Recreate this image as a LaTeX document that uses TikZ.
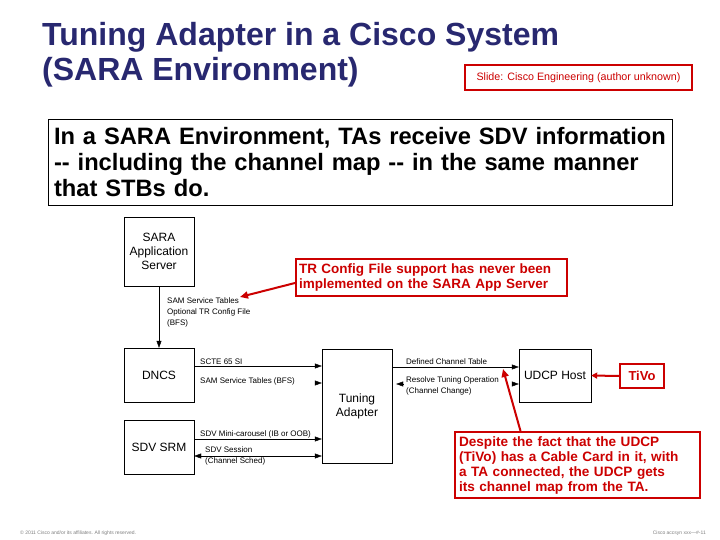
\documentclass[tikz,border=0pt]{standalone}
\usepackage{fontspec}
\setmainfont{Liberation Sans}
\usepackage{tikz}
\usetikzlibrary{arrows.meta,positioning}
\definecolor{titleblue}{RGB}{40,40,112}
\definecolor{callred}{RGB}{204,0,0}

\tikzset{
	unit/.style={draw, fill=white, minimum width=70pt, align=center, font=\fontsize{12}{14}\selectfont, inner sep=2pt},
	flow/.style={-{Triangle[length=7pt,width=5pt]}, thin},
	stub/.style={-{Triangle[length=7pt,width=5pt]}, thin, shorten <=1pt},
	tiny/.style={font=\fontsize{8}{11}\selectfont, inner sep=0pt, align=left},
	callout/.style={draw=callred, line width=2pt, text=callred, align=left, inner sep=4pt},
	redarrow/.style={callred, line width=2pt, -{Triangle[length=8pt,width=7pt]}}
}

\begin{document}
\begin{tikzpicture}[x=1pt,y=-1pt]
	\useasboundingbox[fill=white] (0,0) rectangle (720,540);

	%title and notes
	\node[anchor=base west, inner sep=0pt, align=left, text=titleblue, font=\bfseries\fontsize{32}{35}\selectfont] (title) at (42,81) {Tuning Adapter in a Cisco System\\(SARA Environment)};
	\node[draw=callred, line width=2.5pt, text=callred, font=\fontsize{10.7}{12}\selectfont, minimum width=227pt, minimum height=25pt, inner sep=0pt] (credit) at (578.5,77.5) {Slide: Cisco Engineering (author unknown)};
	\node[draw, thin, text width=612pt, minimum height=86pt, inner sep=6pt, align=left, font=\bfseries\fontsize{23.7}{26}\selectfont] (intro) at (360,162) {In a SARA Environment, TAs receive SDV information\\-{}- including the channel map -{}- in the same manner\\that STBs do.};

	%boxes
	\node[unit, minimum height=69pt] (sara) at (159,251.5) {SARA\\Application\\Server};
	\node[unit, minimum height=54pt] (dncs) at (159,375) {DNCS};
	\node[unit, minimum height=54pt] (srm) at (159,447) {SDV SRM};
	\node[unit, minimum height=114pt] (ta) at (357,406) {Tuning\\Adapter};
	\node[unit, minimum width=72pt, minimum height=53pt] (udcp) at (555,375.5) {UDCP Host};
	\node[draw=callred, line width=2pt, text=callred, font=\bfseries\fontsize{13}{15}\selectfont, minimum width=44pt, minimum height=24pt, inner sep=0pt] (tivo) at (642,376) {TiVo};

	%SARA to DNCS
	\draw[flow] (sara.south) -- (dncs.north);
	\node[tiny, anchor=north west] (bfs) at (167,298) {SAM Service Tables\\Optional TR Config File\\(BFS)};
	\coordinate (trcfg) at (240,297);

	%DNCS to TA
	\draw[flow] (dncs.east |- 0,366) -- (ta.west |- 0,366);
	\node[tiny, anchor=base west] (scte) at (200,364) {SCTE 65 SI};
	\node[tiny, anchor=base west] (samt) at (200,383) {SAM Service Tables (BFS)};
	\draw[stub] ([xshift=-8pt]ta.west |- 0,383) -- (ta.west |- 0,383);

	%SRM to TA
	\draw[flow] (srm.east |- 0,439) -- (ta.west |- 0,439);
	\node[tiny, anchor=base west] (mini) at (200,436) {SDV Mini-carousel (IB or OOB)};
	\draw[{Triangle[length=7pt,width=5pt]}-{Triangle[length=7pt,width=5pt]}, thin] (srm.east |- 0,456) -- (ta.west |- 0,456);
	\node[tiny, anchor=west] (sess) at (205,455.5) {SDV Session\\(Channel Sched)};

	%TA to UDCP
	\draw[flow] (ta.east |- 0,367) -- (udcp.west |- 0,367);
	\node[tiny, anchor=base west] (dct) at (406,364) {Defined Channel Table};
	\coordinate (dctline) at (503,369);
	\node[tiny, anchor=north west] (rto) at (406,377) {Resolve Tuning Operation\\(Channel Change)};
	\draw[stub] ([xshift=12pt]ta.east |- 0,384) -- ([xshift=4pt]ta.east |- 0,384);
	\draw[stub] ([xshift=-8pt]udcp.west |- 0,384) -- (udcp.west |- 0,384);

	%red notes
	\node[callout, text width=265pt, minimum height=37pt, inner sep=3pt, font=\bfseries\fontsize{13.5}{14.5}\selectfont] (trnote) at (431.5,277.5) {TR Config File support has never been\\implemented on the SARA App Server};
	\node[callout, text width=237pt, minimum height=66pt, font=\bfseries\fontsize{13.6}{15}\selectfont] (despite) at (577.5,465) {Despite the fact that the UDCP\\(TiVo) has a Cable Card in it, with\\a TA connected, the UDCP gets\\its channel map from the TA.};
	\draw[redarrow] (trnote.west |- 0,283) -- (trcfg);
	\draw[redarrow] ([xshift=-57pt]despite.north) -- (dctline);
	\draw[redarrow, -{Triangle[length=6pt,width=6pt]}] (tivo.west) -- (udcp.east);

	%footer
	\node[anchor=west, text=gray, font=\fontsize{5}{6}\selectfont, inner sep=0pt] (copy) at (20,533) {© 2011 Cisco and/or its affiliates. All rights reserved.};
	\node[anchor=east, text=gray, font=\fontsize{5}{6}\selectfont, inner sep=0pt] (page) at (706,533) {Cisco accsyn xxx—\#-11};
\end{tikzpicture}
\end{document}
